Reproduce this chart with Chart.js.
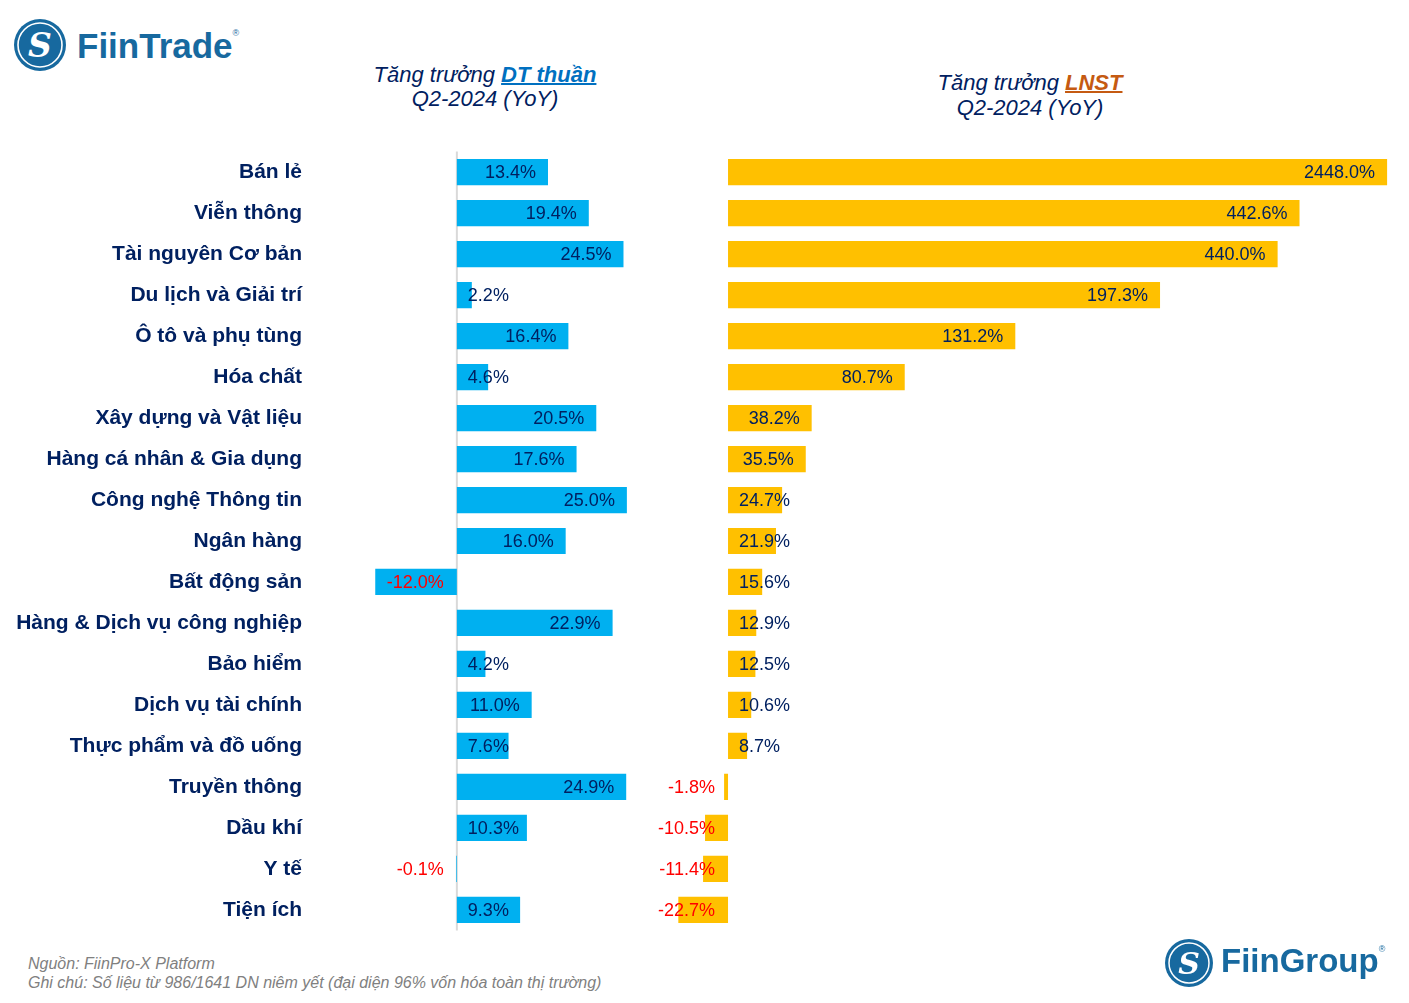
<!DOCTYPE html>
<html>
<head>
<meta charset="utf-8">
<script src="https://cdn.jsdelivr.net/npm/chart.js@4.4.1/dist/chart.umd.min.js"></script>
<style>
  body { margin: 0; background: #fff; font-family: "Liberation Sans", Arial, sans-serif; }
  #page { position: relative; width: 1409px; height: 1003px; overflow: hidden; }
  .title { position: absolute; text-align: center; font-style: italic; font-size: 22px; color: #002060; }
  .title b { text-decoration: underline; text-decoration-thickness: 2px; }
  #chartBox { position: absolute; left: 0; top: 129px; width: 1409px; height: 824px; }
  .note { position: absolute; left: 28px; font-style: italic; font-size: 16px; color: #808080; }
  .brand { position: absolute; font-weight: bold; color: #17699f; }
  .brand sup { font-size: 9px; font-weight: normal; vertical-align: top; position: relative; top: 2px; }
</style>
</head>
<body>
<div id="page">
  <svg style="position:absolute;left:13px;top:18px" width="54" height="54" viewBox="0 0 54 54">
    <circle cx="27" cy="27" r="26" fill="#17699f"/>
    <circle cx="27" cy="27" r="22" fill="none" stroke="#fff" stroke-width="1.6"/>
    <text x="27" y="39" text-anchor="middle" font-family="DejaVu Serif" font-style="italic" font-weight="bold" font-size="33" fill="#fff">S</text>
  </svg>
  <div class="brand" style="left:77px;top:26px;font-size:35px;">FiinTrade<sup>®</sup></div>

  <div class="title" style="left:335px;top:63px;width:300px;line-height:24px;">Tăng trưởng <b style="color:#0070c0">DT thuần</b><br>Q2-2024 (YoY)</div>
  <div class="title" style="left:880px;top:70px;width:300px;line-height:25px;">Tăng trưởng <b style="color:#c55a11">LNST</b><br>Q2-2024 (YoY)</div>

  <div id="chartBox"><canvas id="growthChart"></canvas></div>

  <div class="note" style="top:955px;">Nguồn: FiinPro-X Platform</div>
  <div class="note" style="top:974px;">Ghi chú: Số liệu từ 986/1641 DN niêm yết (đại diện 96% vốn hóa toàn thị trường)</div>

  <svg style="position:absolute;left:1164px;top:938px" width="50" height="50" viewBox="0 0 50 50">
    <circle cx="25" cy="25" r="24" fill="#17699f"/>
    <circle cx="25" cy="25" r="20" fill="none" stroke="#fff" stroke-width="1.5"/>
    <text x="25" y="36" text-anchor="middle" font-family="DejaVu Serif" font-style="italic" font-weight="bold" font-size="30" fill="#fff">S</text>
  </svg>
  <div class="brand" style="left:1221px;top:942px;font-size:33px;">FiinGroup<sup>®</sup></div>
</div>

<script>
// sectors, top to bottom
const sectors = ['Bán lẻ', 'Viễn thông', 'Tài nguyên Cơ bản', 'Du lịch và Giải trí', 'Ô tô và phụ tùng',
  'Hóa chất', 'Xây dựng và Vật liệu', 'Hàng cá nhân & Gia dụng', 'Công nghệ Thông tin', 'Ngân hàng',
  'Bất động sản', 'Hàng & Dịch vụ công nghiệp', 'Bảo hiểm', 'Dịch vụ tài chính', 'Thực phẩm và đồ uống',
  'Truyền thông', 'Dầu khí', 'Y tế', 'Tiện ích'];

// revenue growth (DT thuần), %
const revenueGrowth = [13.4, 19.4, 24.5, 2.2, 16.4, 4.6, 20.5, 17.6, 25.0, 16.0,
  -12.0, 22.9, 4.2, 11.0, 7.6, 24.9, 10.3, -0.1, 9.3];

// profit growth (LNST), %
const profitGrowth = [2448.0, 442.6, 440.0, 197.3, 131.2, 80.7, 38.2, 35.5, 24.7, 21.9,
  15.6, 12.9, 12.5, 10.6, 8.7, -1.8, -10.5, -11.4, -22.7];

// the top three profit bars are drawn shortened (broken) in the original, length in % units
const brokenBars = [301, 261, 251];
const profitShown = profitGrowth.map((v, i) => brokenBars[i] !== undefined ? brokenBars[i] : v);

const NAVY = '#002060';
const RED = '#ff0000';

// zero line of the revenue panel
const zeroLine = {
  id: 'zeroLine',
  beforeDatasetsDraw(chart) {
    const { ctx, chartArea } = chart;
    const x = chart.scales.xL.getPixelForValue(0);
    ctx.save();
    ctx.strokeStyle = '#d9d9d9';
    ctx.lineWidth = 2;
    ctx.beginPath();
    ctx.moveTo(x, chartArea.top);
    ctx.lineTo(x, chartArea.bottom);
    ctx.stroke();
    ctx.restore();
  }
};

// value labels, inside the bar end like the excel original
const valueLabels = {
  id: 'valueLabels',
  afterDatasetsDraw(chart) {
    const { ctx } = chart;
    ctx.save();
    ctx.font = '18px "Liberation Sans", Arial, sans-serif';
    ctx.textBaseline = 'middle';
    ctx.textAlign = 'left';
    chart.data.datasets.forEach((ds, di) => {
      const meta = chart.getDatasetMeta(di);
      meta.data.forEach((bar, i) => {
        const v = ds.realValues[i];
        const txt = v.toFixed(1) + '%';
        const w = ctx.measureText(txt).width;
        let left;
        if (v >= 0) {
          left = Math.max(bar.x - 12 - w, bar.base + 11);
          ctx.fillStyle = NAVY;
        } else {
          left = Math.min(bar.x + 12, bar.base - 13 - w);
          ctx.fillStyle = RED;
        }
        ctx.fillText(txt, left, bar.y + 1);
      });
    });
    ctx.restore();
  }
};

new Chart(document.getElementById('growthChart'), {
  type: 'bar',
  data: {
    labels: sectors,
    datasets: [
      {
        label: 'DT thuần',
        data: revenueGrowth,
        realValues: revenueGrowth,
        xAxisID: 'xL',
        backgroundColor: '#00b0f0',
        grouped: false,
        categoryPercentage: 1,
        barPercentage: 0.64
      },
      {
        label: 'LNST',
        data: profitShown,
        realValues: profitGrowth,
        xAxisID: 'xR',
        backgroundColor: '#ffc000',
        grouped: false,
        categoryPercentage: 1,
        barPercentage: 0.64
      }
    ]
  },
  options: {
    indexAxis: 'y',
    responsive: true,
    maintainAspectRatio: false,
    animation: false,
    layout: { padding: 0 },
    plugins: { legend: { display: false }, tooltip: { enabled: false } },
    scales: {
      y: {
        grid: { display: false, drawTicks: false },
        border: { display: false },
        afterFit: s => { s.width = 312; },
        ticks: {
          autoSkip: false,
          padding: 10,
          color: NAVY,
          font: { family: '"Liberation Sans", Arial, sans-serif', size: 21, weight: 'bold' }
        }
      },
      xL: { type: 'linear', axis: 'x', display: false, min: -21.3, max: 140 },
      xR: { type: 'linear', axis: 'x', display: false, min: -190, max: 311 }
    }
  },
  plugins: [zeroLine, valueLabels]
});
</script>
</body>
</html>
